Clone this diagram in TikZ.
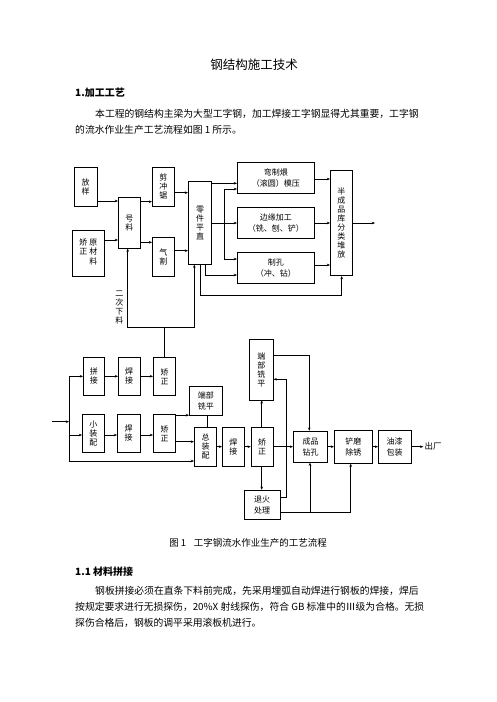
\documentclass[tikz,border=0pt]{standalone}
\usepackage{fontspec}
\setmainfont{Noto Sans CJK SC}
\usetikzlibrary{arrows.meta}
\newcommand\bxf{\fontsize{8}{9}\selectfont}
\newcommand\hbf{\fontsize{8}{11.3}\selectfont}
\newcommand\txf{\fontsize{9.8}{12}\selectfont}
\begin{document}
\begin{tikzpicture}[x=1pt,y=-1pt,
  bx/.style={draw, line width=0.6pt, inner sep=0pt, align=center, font=\bxf},
  hb/.style={bx, font=\hbf},
  arr/.style={-{Stealth[length=3.2pt,width=2.6pt]}, line width=0.6pt},
  ln/.style={line width=0.6pt},
  tx/.style={anchor=west, inner sep=0pt, font=\txf}]
\fill[white] (0,0) rectangle (496,702);
\useasboundingbox (0,0) rectangle (496,702);
% texts
\node[inner sep=0pt, font=\fontsize{12.5}{14}\selectfont] (title) at (254,65) {钢结构施工技术};
\node[tx, font=\fontsize{10}{12}\selectfont\bfseries] (h1) at (75,93) {1.加工工艺};
\node[tx] (p1a) at (95,114) {本工程的钢结构主梁为大型工字钢，加工焊接工字钢显得尤其重要，工字钢};
\node[tx] (p1b) at (75,130) {的流水作业生产工艺流程如图 1 所示。};
\node[inner sep=0pt, font=\fontsize{9.5}{12}\selectfont] (cap) at (248,543) {图 1\hspace{0.8em}工字钢流水作业生产的工艺流程};
\node[tx, font=\fontsize{10}{12}\selectfont\bfseries] (h2) at (75,572) {1.1 材料拼接};
\node[tx] (p2a) at (95,591) {钢板拼接必须在直条下料前完成，先采用埋弧自动焊进行钢板的焊接，焊后};
\node[tx] (p2b) at (75,607) {按规定要求进行无损探伤，20\%X 射线探伤，符合 GB 标准中的Ⅲ级为合格。无损};
\node[tx] (p2c) at (75,623) {探伤合格后，钢板的调平采用滚板机进行。};
% top boxes
\node[bx, minimum width=23.3pt, minimum height=39pt] (fy) at (85.7,186.5) {放\\样};
\node[bx, minimum width=32pt, minimum height=46pt, font=\fontsize{8}{9.2}\selectfont] (yc) at (88.3,253)
  {\begin{tabular}{@{}c@{\hspace{2pt}}c@{}}矫&原\\正&材\\&料\end{tabular}};
\node[bx, minimum width=22pt, minimum height=51pt] (hl) at (129.3,222.8) {号\\料};
\node[bx, minimum width=22pt, minimum height=38.7pt] (jc) at (163.3,186.7) {剪\\冲\\锯};
\node[bx, minimum width=22pt, minimum height=38.7pt] (qg) at (163.3,256.7) {气\\割};
\node[bx, minimum width=23.4pt, minimum height=82.6pt] (lj) at (200,223) {零\\件\\平\\直};
\node[hb, minimum width=77pt, minimum height=30.6pt] (wz) at (275.8,178) {弯制煨\\（滚圆）模压};
\node[hb, minimum width=77pt, minimum height=31pt] (by) at (275.8,222.8) {边缘加工\\（铣、刨、铲）};
\node[hb, minimum width=77pt, minimum height=31pt] (zk) at (275.8,267.8) {制孔\\（冲、钻）};
\node[bx, minimum width=22pt, minimum height=105pt] (bc) at (341.3,223.2) {半\\成\\品\\库\\分\\类\\堆\\放};
% lower boxes
\node[bx, minimum width=21pt, minimum height=38pt] (pj) at (93.8,376.3) {拼\\接};
\node[bx, minimum width=21.7pt, minimum height=38pt] (hj1) at (129.2,376.3) {焊\\接};
\node[bx, minimum width=22.4pt, minimum height=38pt] (jz1) at (164.5,376.3) {矫\\正};
\node[bx, minimum width=22pt, minimum height=38pt] (xz) at (93.3,433.3) {小\\装\\配};
\node[bx, minimum width=22.7pt, minimum height=38pt] (hj2) at (128.7,433.3) {焊\\接};
\node[bx, minimum width=22.4pt, minimum height=38pt] (jz2) at (164.5,433.3) {矫\\正};
\node[hb, minimum width=33pt, minimum height=29.7pt] (dx1) at (205.8,400.8) {端部\\铣平};
\node[bx, minimum width=22.4pt, minimum height=38.7pt] (zz) at (205.5,446.7) {总\\装\\配};
\node[bx, minimum width=22pt, minimum height=38.7pt] (hj3) at (233.3,446.7) {焊\\接};
\node[bx, minimum width=22.3pt, minimum height=38.7pt] (jz3) at (262.2,446.7) {矫\\正};
\node[bx, minimum width=24pt, minimum height=60.7pt] (dx2) at (261.3,369.7) {端\\部\\铣\\平};
\node[hb, minimum width=35.7pt, minimum height=29.3pt] (th) at (262.2,504.7) {退火\\处理};
\node[hb, minimum width=34.4pt, minimum height=31.3pt] (cp) at (310.5,446.7) {成品\\钻孔};
\node[hb, minimum width=38pt, minimum height=33.3pt] (cm) at (353.3,446.7) {铲磨\\除锈};
\node[hb, minimum width=32.7pt, minimum height=33.3pt] (yq) at (394.7,446.7) {油漆\\包装};
\node[anchor=west, inner sep=0pt, font=\fontsize{8.5}{10}\selectfont] (cc) at (424.5,446.2) {出厂};
\node[inner sep=0pt, align=center, font=\bxf] (ec) at (119.3,307.3) {二\\次\\下\\料};
% top connectors
\draw[arr] (fy.east |- 0,201) -- (hl.west |- 0,201);
\draw[arr] (yc.east |- 0,240) -- (hl.west |- 0,240);
\draw[arr] (hl.east |- 0,201.7) -- (jc.west |- 0,201.7);
\draw[arr] (hl.east |- 0,242.3) -- (qg.west |- 0,242.3);
\draw[arr] (jc.east |- 0,192.7) -- (lj.west |- 0,192.7);
\draw[arr] (qg.east |- 0,250.7) -- (lj.west |- 0,250.7);
\draw[arr] (lj.east |- 0,183.3) -- (wz.west |- 0,183.3);
\draw[arr] (lj.east |- 0,223) -- (by.west |- 0,223);
\coordinate (br) at (224.3,223);
\draw[arr] (br) |- (wz.west |- 0,189);
\draw[arr] (br) |- (zk.west |- 0,259);
\draw[arr] (lj.south -| 205.7,0) |- (zk.west |- 0,275);
\draw[arr] (lj.south -| 200.7,0) -- (200.7,295.7) -| (bc.south -| 341.7,0);
\draw[arr] (wz.east |- 0,179) -- (bc.west |- 0,179);
\draw[arr] (by.east |- 0,223) -- (bc.west |- 0,223);
\draw[arr] (zk.east |- 0,265) -- (bc.west |- 0,265);
\coordinate (bcout) at (375,223);
\draw[arr] (bc.east |- 0,223) -- (bcout);
% second cutting
\coordinate (ej) at (164.5,327.3);
\draw[ln] (jz1.north) -- (ej);
\draw[arr] (ej) -| (hl.south -| 127.7,0);
\draw[arr] (ej) -| (lj.south -| 194.3,0);
% lower connectors
\coordinate (in) at (52,421.7);
\coordinate (vt) at (69,421.7);
\draw[arr] (in) -- (vt);
\draw[ln] (69,376.3) -- (69,461);
\draw[arr] (69,376.3) -- (pj.west);
\draw[arr] (69,435) -- (xz.west |- 0,435);
\draw[arr] (69,461) -- (zz.west |- 0,461);
\draw[arr] (pj) -- (hj1);
\draw[arr] (hj1) -- (jz1);
\draw[arr] (xz.east |- 0,435) -- (hj2.west |- 0,435);
\draw[arr] (hj2.east |- 0,435) -- (jz2.west |- 0,435);
\draw[arr] (jz2.east |- 0,415.2) -- (dx1.west |- 0,415.2);
\draw[arr] (jz2.east |- 0,441.7) -- (zz.west |- 0,441.7);
\draw[ln] (dx1.south -| 207.5,0) -- (zz.north -| 207.5,0);
\draw[arr] (zz) -- (hj3);
\draw[arr] (hj3) -- (jz3);
\draw[arr] (jz3.north -| 261.7,0) -- (dx2.south -| 261.7,0);
\draw[arr] (jz3.south -| 261.7,0) -- (th.north -| 261.7,0);
\draw[arr] (dx2.east |- 0,355) -| (cp.north -| 309.3,0);
\draw[arr] (th.east |- 0,497.7) -| (286,379.3) -- (dx2.east |- 0,379.3);
\draw[arr] (jz3) -- (cp);
\draw[arr] (cp) -- (cm);
\draw[arr] (cm) -- (yq);
\coordinate (out) at (423.3,446.7);
\draw[arr] (yq) -- (out);
\draw[arr] (th.east |- 0,512.7) -| (cm.south -| 350.7,0);
\draw[arr] (310,512.7) -- (cp.south -| 310,0);
\end{tikzpicture}
\end{document}
